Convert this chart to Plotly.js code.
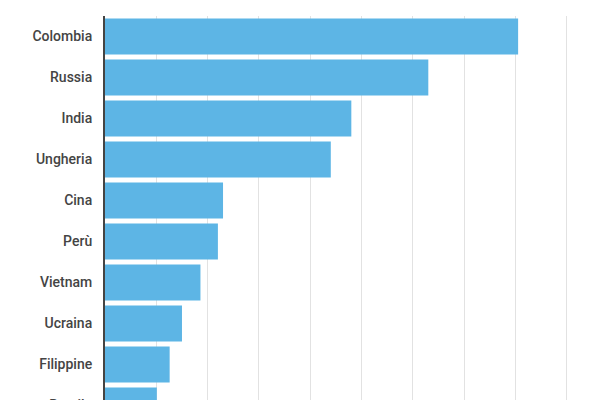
<!DOCTYPE html>
<html>
<head>
<meta charset="utf-8">
<script src="https://cdn.plot.ly/plotly-3.0.1.min.js"></script>
<style>
html,body{margin:0;padding:0;overflow:hidden;background:#fff;}
#chart{width:600px;height:460px;}
</style>
</head>
<body>
<div id="chart"></div>
<script>
const countries = ["Colombia","Russia","India","Ungheria","Cina","Perù","Vietnam","Ucraina","Filippine","Brasile"];
const values = [8.05, 6.30, 4.80, 4.40, 2.30, 2.20, 1.86, 1.50, 1.26, 1.01];

const trace = {
  type: 'bar',
  orientation: 'h',
  y: countries,
  x: values,
  marker: {color: '#5db5e5'},
  hoverinfo: 'x+y'
};

const layout = {
  width: 600,
  height: 460,
  margin: {l: 105, r: 28, t: 16, b: 34},
  paper_bgcolor: '#fff',
  plot_bgcolor: '#fff',
  bargap: 0.12,
  showlegend: false,
  xaxis: {
    range: [0, 9.1],
    dtick: 1,
    showgrid: true,
    gridcolor: '#e2e2e2',
    gridwidth: 1,
    zeroline: false,
    showticklabels: false,
    ticks: '',
    fixedrange: true
  },
  yaxis: {
    type: 'category',
    autorange: 'reversed',
    showline: true,
    linecolor: '#444',
    linewidth: 2,
    ticks: 'outside',
    ticklen: 8,
    tickcolor: 'rgba(0,0,0,0)',
    tickfont: {family: 'Roboto, Arial, sans-serif', size: 14, color: '#444', weight: 500},
    showgrid: false,
    zeroline: false,
    fixedrange: true
  }
};

Plotly.newPlot('chart', [trace], layout, {displayModeBar: false, staticPlot: true});
</script>
</body>
</html>
